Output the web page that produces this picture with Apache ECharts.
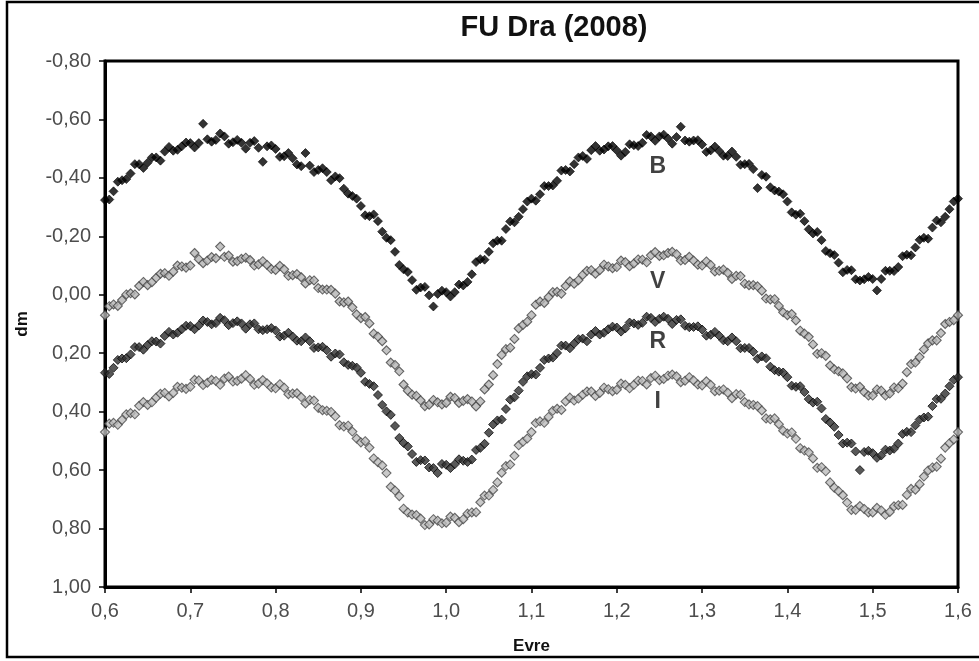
<!DOCTYPE html>
<html>
<head>
<meta charset="utf-8">
<script src="https://cdn.jsdelivr.net/npm/echarts@6/dist/echarts.min.js"></script>
<style>html,body{margin:0;padding:0;background:#fff;}#c{width:979px;height:661px;}</style>
</head>
<body>
<div id="c"></div>
<script>
const titleText = 'FU Dra (2008)';
const xName = 'Evre';
const yName = 'dm';
const bandNames = ['B', 'V', 'R', 'I'];
const bandLabelX = [1.248, 1.248, 1.248, 1.248];
const bandLabelY = [-0.437, -0.044, 0.162, 0.367];

const phase = [
0.600,0.605,0.610,0.615,0.620,0.625,0.630,0.635,0.640,0.645,
0.650,0.655,0.660,0.665,0.670,0.675,0.680,0.685,0.690,0.695,
0.700,0.705,0.710,0.715,0.720,0.725,0.730,0.735,0.740,0.745,
0.750,0.755,0.760,0.765,0.770,0.775,0.780,0.785,0.790,0.795,
0.800,0.805,0.810,0.815,0.820,0.825,0.830,0.835,0.840,0.845,
0.850,0.855,0.860,0.865,0.870,0.875,0.880,0.885,0.890,0.895,
0.900,0.905,0.910,0.915,0.920,0.925,0.930,0.935,0.940,0.945,
0.950,0.955,0.960,0.965,0.970,0.975,0.980,0.985,0.990,0.995,
1.000,1.005,1.010,1.015,1.020,1.025,1.030,1.035,1.040,1.045,
1.050,1.055,1.060,1.065,1.070,1.075,1.080,1.085,1.090,1.095,
1.100,1.105,1.110,1.115,1.120,1.125,1.130,1.135,1.140,1.145,
1.150,1.155,1.160,1.165,1.170,1.175,1.180,1.185,1.190,1.195,
1.200,1.205,1.210,1.215,1.220,1.225,1.230,1.235,1.240,1.245,
1.250,1.255,1.260,1.265,1.270,1.275,1.280,1.285,1.290,1.295,
1.300,1.305,1.310,1.315,1.320,1.325,1.330,1.335,1.340,1.345,
1.350,1.355,1.360,1.365,1.370,1.375,1.380,1.385,1.390,1.395,
1.400,1.405,1.410,1.415,1.420,1.425,1.430,1.435,1.440,1.445,
1.450,1.455,1.460,1.465,1.470,1.475,1.480,1.485,1.490,1.495,
1.500,1.505,1.510,1.515,1.520,1.525,1.530,1.535,1.540,1.545,
1.550,1.555,1.560,1.565,1.570,1.575,1.580,1.585,1.590,1.595,
1.600
];

const magB = [
-0.324,-0.326,-0.354,-0.387,-0.392,-0.396,-0.415,-0.447,-0.447,-0.434,
-0.452,-0.470,-0.470,-0.459,-0.490,-0.506,-0.493,-0.496,-0.508,-0.521,
-0.519,-0.504,-0.519,-0.585,-0.532,-0.524,-0.530,-0.552,-0.542,-0.517,
-0.522,-0.530,-0.520,-0.500,-0.520,-0.526,-0.503,-0.455,-0.508,-0.511,
-0.499,-0.472,-0.474,-0.485,-0.467,-0.446,-0.440,-0.485,-0.442,-0.420,
-0.427,-0.433,-0.420,-0.392,-0.405,-0.399,-0.363,-0.346,-0.338,-0.329,
-0.304,-0.272,-0.269,-0.275,-0.252,-0.216,-0.195,-0.187,-0.147,-0.102,
-0.087,-0.078,-0.050,-0.017,-0.025,-0.027,0.002,0.040,-0.003,-0.014,
-0.009,0.006,-0.009,-0.035,-0.032,-0.044,-0.070,-0.112,-0.122,-0.120,
-0.147,-0.176,-0.185,-0.185,-0.225,-0.251,-0.248,-0.267,-0.293,-0.319,
-0.329,-0.322,-0.344,-0.372,-0.372,-0.374,-0.390,-0.425,-0.427,-0.422,
-0.447,-0.470,-0.475,-0.465,-0.495,-0.509,-0.493,-0.497,-0.508,-0.509,
-0.494,-0.476,-0.489,-0.515,-0.512,-0.509,-0.520,-0.547,-0.542,-0.527,
-0.542,-0.548,-0.535,-0.517,-0.540,-0.575,-0.528,-0.524,-0.528,-0.529,
-0.514,-0.489,-0.494,-0.507,-0.492,-0.476,-0.475,-0.490,-0.472,-0.445,
-0.447,-0.448,-0.430,-0.365,-0.410,-0.404,-0.368,-0.357,-0.353,-0.344,
-0.319,-0.282,-0.274,-0.277,-0.252,-0.224,-0.210,-0.215,-0.187,-0.150,
-0.142,-0.136,-0.110,-0.077,-0.085,-0.084,-0.053,-0.049,-0.053,-0.061,
-0.054,-0.015,-0.054,-0.082,-0.082,-0.081,-0.095,-0.132,-0.137,-0.135,
-0.162,-0.188,-0.195,-0.192,-0.230,-0.254,-0.248,-0.267,-0.293,-0.319,
-0.329
];

const magV = [
0.070,0.039,0.033,0.038,0.018,-0.001,-0.005,-0.001,-0.030,-0.044,
-0.033,-0.043,-0.058,-0.072,-0.074,-0.065,-0.079,-0.100,-0.097,-0.093,
-0.100,-0.143,-0.122,-0.108,-0.117,-0.129,-0.125,-0.165,-0.130,-0.134,
-0.113,-0.115,-0.123,-0.127,-0.119,-0.100,-0.104,-0.115,-0.102,-0.088,
-0.085,-0.099,-0.087,-0.065,-0.067,-0.071,-0.060,-0.039,-0.050,-0.049,
-0.023,-0.018,-0.018,-0.017,-0.004,0.023,0.026,0.023,0.043,0.067,
0.080,0.076,0.098,0.133,0.143,0.159,0.190,0.232,0.240,0.262,
0.307,0.328,0.342,0.346,0.361,0.381,0.376,0.360,0.368,0.375,
0.370,0.349,0.353,0.370,0.363,0.357,0.365,0.382,0.365,0.324,
0.307,0.275,0.237,0.206,0.186,0.181,0.151,0.115,0.103,0.092,
0.070,0.034,0.023,0.028,0.008,-0.009,-0.010,-0.004,-0.030,-0.046,
-0.038,-0.050,-0.068,-0.082,-0.084,-0.072,-0.084,-0.103,-0.097,-0.091,
-0.095,-0.117,-0.112,-0.098,-0.107,-0.121,-0.120,-0.111,-0.135,-0.146,
-0.133,-0.135,-0.143,-0.147,-0.139,-0.117,-0.119,-0.130,-0.117,-0.103,
-0.100,-0.114,-0.102,-0.080,-0.082,-0.086,-0.075,-0.054,-0.065,-0.064,
-0.038,-0.033,-0.033,-0.029,-0.014,0.013,0.016,0.015,0.038,0.060,
0.070,0.066,0.088,0.123,0.133,0.144,0.170,0.202,0.200,0.209,
0.242,0.255,0.262,0.269,0.286,0.316,0.321,0.315,0.333,0.345,
0.345,0.324,0.328,0.345,0.338,0.317,0.320,0.304,0.265,0.237,
0.232,0.213,0.187,0.166,0.156,0.156,0.131,0.100,0.093,0.087,
0.070
];

const magR = [
0.267,0.271,0.250,0.223,0.218,0.217,0.204,0.179,0.179,0.188,
0.172,0.159,0.160,0.167,0.141,0.127,0.136,0.130,0.118,0.106,
0.107,0.118,0.105,0.088,0.093,0.101,0.097,0.079,0.087,0.104,
0.097,0.091,0.098,0.116,0.101,0.098,0.118,0.121,0.118,0.114,
0.122,0.143,0.140,0.130,0.143,0.157,0.159,0.146,0.159,0.182,
0.180,0.178,0.190,0.212,0.201,0.204,0.231,0.240,0.243,0.249,
0.267,0.298,0.305,0.313,0.343,0.377,0.399,0.411,0.449,0.490,
0.507,0.519,0.545,0.572,0.566,0.567,0.591,0.593,0.610,0.579,
0.582,0.593,0.580,0.563,0.568,0.572,0.564,0.531,0.524,0.510,
0.472,0.444,0.430,0.427,0.391,0.359,0.351,0.328,0.298,0.279,
0.272,0.273,0.250,0.223,0.218,0.215,0.199,0.174,0.174,0.183,
0.167,0.152,0.150,0.159,0.136,0.124,0.136,0.130,0.118,0.109,
0.112,0.126,0.115,0.095,0.098,0.103,0.096,0.075,0.079,0.093,
0.082,0.075,0.082,0.100,0.086,0.084,0.106,0.111,0.110,0.108,
0.119,0.140,0.137,0.127,0.140,0.156,0.159,0.146,0.159,0.183,
0.182,0.182,0.195,0.219,0.211,0.217,0.246,0.258,0.263,0.266,
0.282,0.311,0.315,0.313,0.333,0.357,0.369,0.366,0.389,0.425,
0.437,0.452,0.480,0.509,0.506,0.509,0.536,0.600,0.538,0.534,
0.542,0.558,0.550,0.530,0.533,0.527,0.509,0.476,0.469,0.470,
0.447,0.427,0.420,0.417,0.381,0.357,0.356,0.338,0.313,0.291,
0.282
];

const magI = [
0.470,0.441,0.438,0.445,0.428,0.409,0.405,0.409,0.380,0.367,
0.377,0.368,0.352,0.339,0.336,0.348,0.336,0.315,0.318,0.322,
0.315,0.291,0.293,0.309,0.301,0.291,0.295,0.308,0.287,0.280,
0.297,0.295,0.287,0.275,0.288,0.308,0.304,0.292,0.303,0.317,
0.320,0.306,0.318,0.340,0.338,0.337,0.350,0.372,0.360,0.362,
0.387,0.395,0.397,0.401,0.416,0.446,0.451,0.448,0.468,0.492,
0.505,0.501,0.523,0.560,0.573,0.584,0.610,0.657,0.670,0.689,
0.732,0.745,0.752,0.754,0.766,0.788,0.786,0.768,0.773,0.782,
0.780,0.759,0.763,0.778,0.768,0.749,0.745,0.744,0.710,0.687,
0.687,0.668,0.642,0.609,0.586,0.581,0.551,0.515,0.503,0.492,
0.470,0.439,0.433,0.438,0.418,0.397,0.390,0.394,0.365,0.352,
0.362,0.355,0.342,0.331,0.331,0.346,0.336,0.318,0.323,0.330,
0.325,0.304,0.308,0.320,0.308,0.294,0.295,0.307,0.285,0.277,
0.292,0.288,0.277,0.273,0.279,0.299,0.294,0.282,0.293,0.307,
0.310,0.296,0.308,0.330,0.328,0.324,0.335,0.354,0.340,0.342,
0.367,0.375,0.377,0.381,0.396,0.423,0.426,0.423,0.443,0.465,
0.475,0.471,0.493,0.525,0.533,0.539,0.560,0.592,0.590,0.604,
0.642,0.660,0.672,0.686,0.711,0.736,0.736,0.723,0.733,0.745,
0.745,0.729,0.738,0.753,0.743,0.724,0.720,0.719,0.685,0.664,
0.667,0.648,0.622,0.601,0.591,0.588,0.561,0.523,0.508,0.495,
0.470
];

const xTicks = { min: 0.6, max: 1.6, interval: 0.1 };
const yTicks = { min: -0.8, max: 1.0, interval: 0.2 };

function pairs(ys) { return phase.map((x, i) => [x, ys[i]]); }

const FONT = "'Liberation Sans', Arial, sans-serif";
const chart = echarts.init(document.getElementById('c'), null, { renderer: 'canvas' });

const styles = {
  B: { color: '#000000', borderColor: '#000', borderWidth: 0.8 },
  V: { color: '#b4b4b4', borderColor: '#444', borderWidth: 1.1 },
  R: { color: '#2e2e2e', borderColor: '#0c0c0c', borderWidth: 1 },
  I: { color: '#bcbcbc', borderColor: '#4a4a4a', borderWidth: 1.1 }
};
const values = { B: magB, V: magV, R: magR, I: magI };

const series = bandNames.map(n => ({
  name: n,
  type: 'scatter',
  symbol: 'diamond',
  symbolSize: 9,
  itemStyle: styles[n],
  data: pairs(values[n]),
  silent: true,
  animation: false
}));

series.push({
  name: 'labels',
  type: 'scatter',
  symbolSize: 0,
  silent: true,
  animation: false,
  data: bandNames.map((n, i) => ({ value: [bandLabelX[i], bandLabelY[i]], name: n })),
  label: {
    show: true,
    position: 'inside',
    formatter: p => p.name,
    fontFamily: FONT,
    fontWeight: 'bold',
    fontSize: 23,
    color: '#111'
  }
});

chart.setOption({
  backgroundColor: '#ffffff',
  animation: false,
  title: {
    text: titleText,
    left: 549,
    textAlign: 'center',
    top: 8,
    textStyle: { fontFamily: FONT, fontWeight: 'bold', fontSize: 29, color: '#111' }
  },
  graphic: [{
    type: 'rect',
    shape: { x: 7, y: 2, width: 985, height: 655 },
    style: { fill: 'none', stroke: '#000', lineWidth: 2.5 },
    silent: true,
    z: -1
  }],
  grid: {
    left: 105, right: 21, top: 61, bottom: 74,
    show: true, borderColor: '#000', borderWidth: 3, backgroundColor: '#fff'
  },
  xAxis: {
    type: 'value',
    min: xTicks.min, max: xTicks.max, interval: xTicks.interval,
    name: xName,
    nameLocation: 'middle',
    nameGap: 51,
    nameTextStyle: { fontFamily: FONT, fontWeight: 'bold', fontSize: 17, color: '#111' },
    axisLine: { onZero: false, lineStyle: { color: '#000', width: 3 } },
    axisTick: { show: true, inside: false, length: 6, lineStyle: { color: '#000', width: 1.5 } },
    axisLabel: {
      margin: 14,
      fontFamily: FONT, fontSize: 20, color: '#4d4d4d',
      formatter: v => v.toFixed(1).replace('.', ',')
    },
    splitLine: { show: false }
  },
  yAxis: {
    type: 'value',
    inverse: true,
    min: yTicks.min, max: yTicks.max, interval: yTicks.interval,
    name: yName,
    nameLocation: 'middle',
    nameRotate: 90,
    nameGap: 74,
    nameTextStyle: { fontFamily: FONT, fontWeight: 'bold', fontSize: 17, color: '#111' },
    axisLine: { onZero: false, lineStyle: { color: '#000', width: 3 } },
    axisTick: { show: true, inside: false, length: 6, lineStyle: { color: '#000', width: 1.5 } },
    axisLabel: {
      margin: 14,
      fontFamily: FONT, fontSize: 20, color: '#4d4d4d',
      formatter: v => (Math.abs(v) < 1e-9 ? 0 : v).toFixed(2).replace('.', ',')
    },
    splitLine: { show: false }
  },
  series: series
});
</script>
</body>
</html>
